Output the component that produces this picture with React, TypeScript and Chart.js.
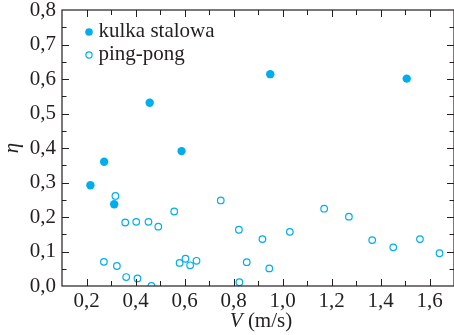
import React, { useEffect, useRef } from 'react';
import { Chart, registerables } from 'chart.js';

Chart.register(...registerables);

// ---- data ----
const seriesLabels = ['kulka stalowa', 'ping-pong'];
const steelV = [0.216, 0.272, 0.313, 0.458, 0.588, 0.95, 1.507];
const steelEta = [0.292, 0.36, 0.237, 0.531, 0.391, 0.614, 0.601];
const pingV = [
  0.271, 0.318, 0.324, 0.358, 0.362, 0.403, 0.408, 0.453, 0.465, 0.493, 0.558, 0.58, 0.604, 0.623,
  0.649, 0.748, 0.822, 0.824, 0.854, 0.918, 0.946, 1.03, 1.17, 1.271, 1.366, 1.452, 1.561, 1.641,
];
const pingEta = [
  0.07, 0.261, 0.058, 0.184, 0.026, 0.186, 0.022, 0.186, 0.0, 0.172, 0.216, 0.067, 0.079, 0.06,
  0.073, 0.248, 0.163, 0.011, 0.069, 0.136, 0.051, 0.157, 0.224, 0.201, 0.133, 0.112, 0.136, 0.095,
];
const xTickValues = [0.2, 0.4, 0.6, 0.8, 1.0, 1.2, 1.4, 1.6];
const yTickValues = [0, 0.1, 0.2, 0.3, 0.4, 0.5, 0.6, 0.7, 0.8];
const xTitleItalic = 'V';
const xTitleRest = ' (m/s)';
const yTitle = 'η';

const INK = '#231f20';
const BLUE = '#00aeef';
const FONT = "'Liberation Serif', 'Times New Roman', serif";

const fmt = (v: number) => Number(v).toFixed(1).replace('.', ',');

const framePlugin = {
  id: 'frameTicks',
  afterDraw(chart: any) {
    const { ctx, chartArea: a } = chart;
    const x = chart.scales.x;
    const y = chart.scales.y;
    ctx.save();
    ctx.strokeStyle = INK;
    ctx.lineWidth = 1.2;
    ctx.strokeRect(a.left, a.top, a.right - a.left, a.bottom - a.top);
    ctx.lineWidth = 1;
    ctx.beginPath();
    for (let i = 2; i <= 16; i++) {
      const px = Math.round(x.getPixelForValue(i / 10)) + 0.5;
      const len = i % 2 === 0 ? 7 : 5;
      ctx.moveTo(px, a.bottom);
      ctx.lineTo(px, a.bottom - len);
      ctx.moveTo(px, a.top);
      ctx.lineTo(px, a.top + len);
    }
    for (let i = 1; i < 16; i++) {
      const py = Math.round(y.getPixelForValue(i * 0.05)) + 0.5;
      const len = i % 2 === 0 ? 7 : 4.5;
      ctx.moveTo(a.left, py);
      ctx.lineTo(a.left + len, py);
      ctx.moveTo(a.right, py);
      ctx.lineTo(a.right - len, py);
    }
    ctx.stroke();

    // x axis title with italic V
    ctx.fillStyle = INK;
    ctx.textBaseline = 'alphabetic';
    ctx.textAlign = 'left';
    ctx.font = `italic 21px ${FONT}`;
    const w1 = ctx.measureText(xTitleItalic).width;
    ctx.font = `21px ${FONT}`;
    const w2 = ctx.measureText(xTitleRest).width;
    const cx = (a.left + a.right) / 2 + 3;
    const startX = cx - (w1 + w2) / 2;
    const baseY = a.bottom + 41;
    ctx.font = `italic 21px ${FONT}`;
    ctx.fillText(xTitleItalic, startX, baseY);
    ctx.font = `21px ${FONT}`;
    ctx.fillText(xTitleRest, startX + w1, baseY);

    // legend inside the plot area
    const lx = a.left + 27;
    const rows = [a.top + 22, a.top + 45];
    ctx.font = `21px ${FONT}`;
    rows.forEach((ry, i) => {
      ctx.beginPath();
      ctx.arc(lx, ry, i === 0 ? 3.8 : 3.1, 0, Math.PI * 2);
      if (i === 0) {
        ctx.fillStyle = BLUE;
        ctx.fill();
      } else {
        ctx.strokeStyle = BLUE;
        ctx.lineWidth = 1.2;
        ctx.stroke();
      }
      ctx.fillStyle = INK;
      ctx.fillText(seriesLabels[i], lx + 9.5, ry + 5);
    });
    ctx.restore();
  },
};

export default function App() {
  const ref = useRef<HTMLCanvasElement>(null);
  useEffect(() => {
    document.body.style.margin = '0';
    const canvas = ref.current;
    if (!canvas) return;
    const chart = new Chart(canvas, {
      type: 'scatter',
      data: {
        datasets: [
          {
            label: seriesLabels[0],
            data: steelV.map((v, i) => ({ x: v, y: steelEta[i] })),
            pointStyle: 'circle',
            pointRadius: 4.2,
            pointBackgroundColor: BLUE,
            pointBorderWidth: 0,
            pointBorderColor: BLUE,
          },
          {
            label: seriesLabels[1],
            data: pingV.map((v, i) => ({ x: v, y: pingEta[i] })),
            pointStyle: 'circle',
            pointRadius: 3.3,
            pointBackgroundColor: 'rgba(255,255,255,0)',
            pointBorderWidth: 1.2,
            pointBorderColor: BLUE,
          },
        ],
      },
      options: {
        responsive: false,
        animation: false,
        layout: { autoPadding: false, padding: { top: 10, right: 0, left: 0, bottom: 0 } },
        plugins: { legend: { display: false }, tooltip: { enabled: false } },
        scales: {
          x: {
            type: 'linear',
            min: 0.1,
            max: 1.7,
            grid: { display: false, drawTicks: false },
            border: { display: false },
            afterBuildTicks: (s: any) => {
              s.ticks = xTickValues.map((v) => ({ value: v }));
            },
            afterFit: (s: any) => {
              s.height = 49;
              s.paddingLeft = 0;
              s.paddingRight = 0;
            },
            ticks: {
              color: INK,
              font: { family: FONT, size: 21 },
              padding: 3,
              maxRotation: 0,
              autoSkip: false,
              callback: (v: any) => fmt(v),
            },
          },
          y: {
            type: 'linear',
            min: 0,
            max: 0.8,
            grid: { display: false, drawTicks: false },
            border: { display: false },
            afterBuildTicks: (s: any) => {
              s.ticks = yTickValues.map((v) => ({ value: v }));
            },
            afterFit: (s: any) => {
              s.width = 62;
              s.paddingTop = 0;
              s.paddingBottom = 0;
            },
            title: {
              display: true,
              text: yTitle,
              color: INK,
              font: { family: FONT, size: 21, style: 'italic' },
              padding: { top: 0, bottom: 0 },
            },
            ticks: {
              color: INK,
              font: { family: FONT, size: 21 },
              padding: 6,
              autoSkip: false,
              callback: (v: any) => fmt(v),
            },
          },
        },
      },
      plugins: [framePlugin],
    } as any);
    return () => chart.destroy();
  }, []);
  return (
    <div style={{ width: 454, height: 335 }}>
      <canvas ref={ref} width={454} height={335} style={{ display: 'block' }} />
    </div>
  );
}
